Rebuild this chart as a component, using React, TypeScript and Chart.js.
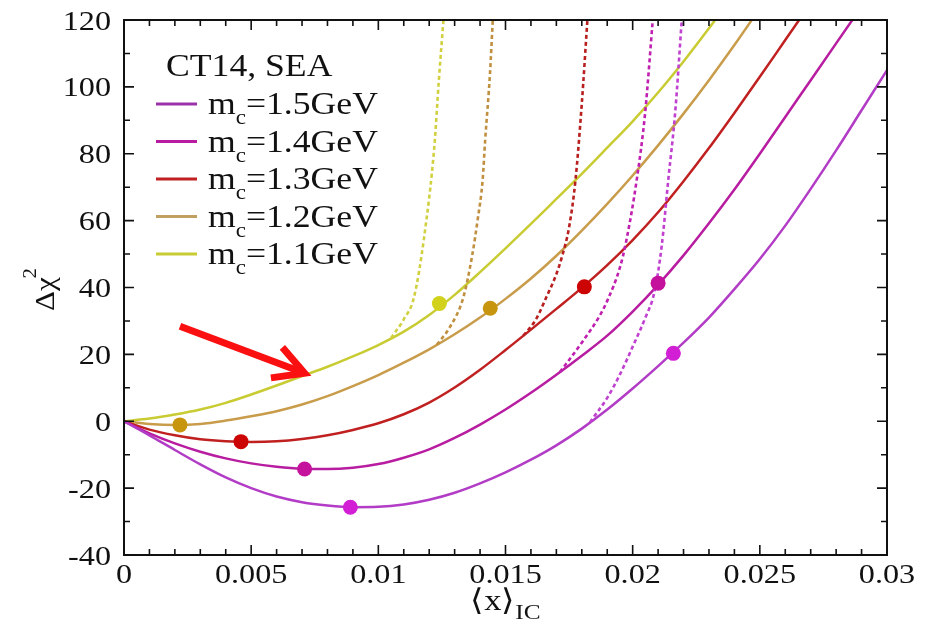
import React, { useEffect, useRef } from "react";
import { Chart, registerables } from "chart.js";
Chart.register(...registerables);

// ---------- data ----------
const xGrid = [
  0, 0.001, 0.002, 0.003, 0.004, 0.005, 0.006, 0.007, 0.008, 0.009, 0.01,
  0.011, 0.012, 0.013, 0.014, 0.015, 0.016, 0.017, 0.018, 0.019, 0.02,
  0.021, 0.022, 0.023, 0.024, 0.025, 0.026, 0.027, 0.028, 0.029, 0.03,
];
const chi2M15 = [0, -4.2, -8.6, -12.9, -16.8, -20, -22.5, -24.2, -25.2, -25.7, -25.6, -24.9, -23.5, -21.4, -18.6, -15.3, -11.5, -7.2, -2.2, 3.5, 9.8, 16.5, 23.5, 31, 39.5, 48.5, 58.5, 69.5, 81, 93, 105];
const chi2M14 = [0, -3.6, -6.6, -9.1, -11.1, -12.6, -13.6, -14.2, -14.3, -13.9, -12.8, -10.9, -8.4, -5, -1, 3.5, 8.5, 13.9, 19.6, 25.6, 32.8, 40.8, 49.6, 59.2, 69.3, 80, 91, 102, 113, 124, 135];
const chi2M13 = [0, -2.5, -4.2, -5.4, -6, -6.2, -6, -5.3, -4.2, -2.6, -0.6, 2.1, 5.6, 10.1, 15.4, 21.3, 27.4, 33.6, 39.9, 46.7, 54.2, 62.5, 71.8, 81.7, 92.2, 103, 114, 125, 136, 147, 158];
const chi2M12 = [0, -0.8, -1.1, -0.8, 0.2, 1.5, 3, 5, 7.5, 10.5, 13.8, 17.5, 21.5, 26, 31, 36.6, 42.7, 49.5, 57, 65, 73.5, 82.5, 92, 102, 112.5, 123.5, 134.5, 145.5, 156.5, 167.5, 178.5];
const chi2M11 = [0, 0.8, 2, 3.5, 5.5, 8, 10.7, 13.5, 16.3, 19.4, 22.8, 26.8, 31.8, 37.8, 44.6, 51.7, 59, 66.5, 74, 81.8, 89.7, 98.3, 107.6, 117.5, 128, 138.5, 149, 159.5, 170, 180.5, 191];

// dashed branches
const dashM11X = [0.0105, 0.011, 0.0114, 0.0118, 0.0122, 0.01238, 0.01256];
const dashM11Y = [24.9, 30.5, 37, 55, 82, 102, 120];
const dashM12X = [0.0123, 0.0128, 0.01334, 0.0137, 0.0139, 0.0141, 0.0142, 0.01439, 0.0145];
const dashM12Y = [22.9, 28, 37, 50, 60, 72, 84, 104, 120];
const dashM13X = [0.0157, 0.0162, 0.0166, 0.017, 0.01725, 0.0175, 0.01775, 0.018, 0.01822];
const dashM13Y = [25.6, 30.5, 37, 44, 50, 58, 72, 95, 120];
const dashM14X = [0.01714, 0.018, 0.0187, 0.019, 0.0195, 0.01975, 0.02016, 0.02049, 0.02079];
const dashM14Y = [14.7, 23.5, 31.5, 36, 46, 54, 72.2, 92.2, 120];
const dashM15X = [0.01832, 0.019, 0.0195, 0.02003, 0.0205, 0.02085, 0.02114, 0.0214, 0.02167, 0.02193];
const dashM15Y = [-0.3, 7, 14, 22.8, 31, 38.5, 52.3, 72.2, 92.2, 120];

// marked points
const dotM15X = [0.0089, 0.0216];
const dotM15Y = [-25.7, 20.3];
const dotM14X = [0.0071, 0.021];
const dotM14Y = [-14.3, 41.3];
const dotM13X = [0.0046, 0.0181];
const dotM13Y = [-6.1, 40.2];
const dotM12X = [0.0022, 0.0144];
const dotM12Y = [-1.1, 33.8];
const dotM11X = [0.0124];
const dotM11Y = [35.2];

// labels
const legendTitle = "CT14, SEA";
const legendMasses = ["1.5", "1.4", "1.3", "1.2", "1.1"];
const xTickValues = [0, 0.005, 0.01, 0.015, 0.02, 0.025, 0.03];
const xTickLabels = ["0", "0.005", "0.01", "0.015", "0.02", "0.025", "0.03"];
const yTickValues = [-40, -20, 0, 20, 40, 60, 80, 100, 120];
const yTickLabels = ["-40", "-20", "0", "20", "40", "60", "80", "100", "120"];

// arrow annotation (data coords): tail -> tip
const arrowX = [0.0022, 0.0071];
const arrowY = [28.4, 14.4];

// ---------- styles ----------
const lineColors = ["#b23cc6", "#b81ca0", "#c02020", "#c89c4a", "#c8cc32"];
const dashColors = ["#c040d0", "#c020b0", "#b82020", "#c09040", "#d0d040"];
const dotColors = ["#d21ed4", "#c4129c", "#cc0404", "#c8960e", "#d2d21c"];
const legendColors = ["#9b32aa", "#b81ca0", "#c02020", "#c0a060", "#c8cc32"];
const SERIF = '"Liberation Serif", "Times New Roman", Tinos, serif';

function pts(xs: number[], ys: number[]) {
  return xs.map((x, i) => ({ x, y: ys[i] }));
}

function sText(ctx: CanvasRenderingContext2D, txt: string, x: number, y: number, font: string, align: CanvasTextAlign, sx: number) {
  ctx.save();
  ctx.font = font;
  ctx.textAlign = align;
  ctx.textBaseline = "alphabetic";
  ctx.translate(x, y);
  ctx.scale(sx, 1);
  ctx.fillText(txt, 0, 0);
  ctx.restore();
}

const deco = {
  id: "deco",
  afterDraw(chart: any) {
    const ctx: CanvasRenderingContext2D = chart.ctx;
    const { left, right, top, bottom } = chart.chartArea;
    const xs = chart.scales.x;
    const ys = chart.scales.y;
    ctx.save();
    // arrow
    const tx = xs.getPixelForValue(arrowX[0]);
    const ty = ys.getPixelForValue(arrowY[0]);
    const hx = xs.getPixelForValue(arrowX[1]);
    const hy = ys.getPixelForValue(arrowY[1]);
    const ang = Math.atan2(hy - ty, hx - tx);
    ctx.strokeStyle = "#fa1010";
    ctx.lineWidth = 7;
    ctx.lineCap = "butt";
    ctx.beginPath();
    ctx.moveTo(tx, ty);
    ctx.lineTo(hx - 4 * Math.cos(ang), hy - 4 * Math.sin(ang));
    ctx.stroke();
    ctx.lineJoin = "miter";
    ctx.beginPath();
    const wl = 34, wa = 0.5;
    ctx.moveTo(hx - wl * Math.cos(ang - wa), hy - wl * Math.sin(ang - wa));
    ctx.lineTo(hx, hy);
    ctx.lineTo(hx - wl * Math.cos(ang + wa), hy - wl * Math.sin(ang + wa));
    ctx.stroke();

    // frame
    ctx.strokeStyle = "#111";
    ctx.lineWidth = 2;
    ctx.strokeRect(left, top, right - left, bottom - top);
    // ticks
    ctx.lineWidth = 1.6;
    ctx.beginPath();
    for (let i = 0; i <= 30; i++) {
      const v = i * 0.001;
      const px = xs.getPixelForValue(v);
      const len = i % 5 === 0 ? 10 : 6;
      ctx.moveTo(px, bottom);
      ctx.lineTo(px, bottom - len);
      ctx.moveTo(px, top);
      ctx.lineTo(px, top + len);
    }
    for (let i = 0; i <= 16; i++) {
      const v = -40 + i * 10;
      const py = ys.getPixelForValue(v);
      const len = i % 2 === 0 ? 10 : 6;
      ctx.moveTo(left, py);
      ctx.lineTo(left + len, py);
      ctx.moveTo(right, py);
      ctx.lineTo(right - len, py);
    }
    ctx.stroke();

    // tick labels
    ctx.fillStyle = "#111";
    const tickFont = `28px ${SERIF}`;
    xTickValues.forEach((v, i) => {
      sText(ctx, xTickLabels[i], xs.getPixelForValue(v), bottom + 28, tickFont, "center", 1.15);
    });
    yTickValues.forEach((v, i) => {
      sText(ctx, yTickLabels[i], left - 13, ys.getPixelForValue(v) + 9.5, tickFont, "right", 1.15);
    });

    // y axis title (rotated)
    ctx.save();
    ctx.translate(54, 289);
    ctx.rotate(-Math.PI / 2);
    ctx.scale(1.15, 1);
    ctx.textAlign = "left";
    ctx.textBaseline = "alphabetic";
    ctx.font = `27px ${SERIF}`;
    const w1 = ctx.measureText("Δχ").width;
    ctx.font = `18px ${SERIF}`;
    const w2 = ctx.measureText("2").width;
    const sx0 = -(w1 + w2) / 2;
    ctx.font = `27px ${SERIF}`;
    ctx.fillText("Δχ", sx0, 0);
    ctx.font = `18px ${SERIF}`;
    ctx.fillText("2", sx0 + w1 - 1, -18);
    ctx.restore();

    // x axis title
    ctx.save();
    ctx.font = `30px ${SERIF}`;
    const bw = ctx.measureText("⟨x⟩").width * 1.15;
    ctx.font = `22px ${SERIF}`;
    const sw = ctx.measureText("IC").width * 1.15;
    const x0 = (left + right) / 2 - (bw + sw) / 2;
    sText(ctx, "⟨x⟩", x0, 610, `30px ${SERIF}`, "left", 1.15);
    sText(ctx, "IC", x0 + bw, 619, `22px ${SERIF}`, "left", 1.15);
    ctx.restore();

    // legend
    const lx = 166;
    sText(ctx, legendTitle, lx, 76, `31px ${SERIF}`, "left", 1.15);
    legendMasses.forEach((m, i) => {
      const cy = 104 + i * 37.5;
      ctx.strokeStyle = legendColors[i];
      ctx.lineWidth = 3;
      ctx.beginPath();
      ctx.moveTo(156, cy);
      ctx.lineTo(197, cy);
      ctx.stroke();
      const base = cy + 10;
      const mf = `31px ${SERIF}`;
      const sf = `20px ${SERIF}`;
      ctx.font = mf;
      const wm = ctx.measureText("m").width * 1.15;
      ctx.font = sf;
      const wc = ctx.measureText("c").width * 1.15;
      sText(ctx, "m", 208, base, mf, "left", 1.15);
      sText(ctx, "c", 208 + wm, base + 10, sf, "left", 1.15);
      sText(ctx, "=" + m + "GeV", 208 + wm + wc, base, mf, "left", 1.15);
    });
    ctx.restore();
  },
};

export default function App() {
  const ref = useRef<HTMLCanvasElement | null>(null);
  useEffect(() => {
    document.body.style.margin = "0";
    const curves = [chi2M15, chi2M14, chi2M13, chi2M12, chi2M11];
    const dashes = [
      [dashM15X, dashM15Y],
      [dashM14X, dashM14Y],
      [dashM13X, dashM13Y],
      [dashM12X, dashM12Y],
      [dashM11X, dashM11Y],
    ];
    const dots = [
      [dotM15X, dotM15Y],
      [dotM14X, dotM14Y],
      [dotM13X, dotM13Y],
      [dotM12X, dotM12Y],
      [dotM11X, dotM11Y],
    ];
    const datasets: any[] = [];
    curves.forEach((c, i) => {
      datasets.push({
        type: "line",
        data: pts(xGrid, c),
        borderColor: lineColors[i],
        borderWidth: 2.5,
        pointRadius: 0,
        cubicInterpolationMode: "monotone",
        fill: false,
        order: 2,
      });
    });
    dashes.forEach((d, i) => {
      datasets.push({
        type: "line",
        data: pts(d[0], d[1]),
        borderColor: dashColors[i],
        borderWidth: 2.6,
        borderDash: [4, 3],
        pointRadius: 0,
        cubicInterpolationMode: "monotone",
        fill: false,
        order: 1,
      });
    });
    dots.forEach((d, i) => {
      datasets.push({
        type: "scatter",
        data: pts(d[0], d[1]),
        backgroundColor: dotColors[i],
        borderWidth: 0,
        pointRadius: 7.5,
        showLine: false,
        order: 0,
      });
    });
    const chart = new Chart(ref.current as HTMLCanvasElement, {
      type: "line",
      data: { datasets },
      plugins: [deco],
      options: {
        animation: false,
        responsive: true,
        maintainAspectRatio: false,
        layout: { padding: { top: 20, right: 46, left: 0, bottom: 0 } },
        plugins: { legend: { display: false }, tooltip: { enabled: false } },
        scales: {
          x: {
            type: "linear",
            min: 0,
            max: 0.03,
            grid: { display: false },
            border: { display: false },
            ticks: { display: false },
            afterFit: (s: any) => {
              s.height = 75;
            },
          },
          y: {
            type: "linear",
            min: -40,
            max: 120,
            grid: { display: false },
            border: { display: false },
            ticks: { display: false },
            afterFit: (s: any) => {
              s.width = 124;
            },
          },
        },
      } as any,
    });
    return () => chart.destroy();
  }, []);
  return (
    <div style={{ position: "absolute", left: 0, top: 0, width: 933, height: 630, background: "#fff" }}>
      <canvas ref={ref} />
    </div>
  );
}
